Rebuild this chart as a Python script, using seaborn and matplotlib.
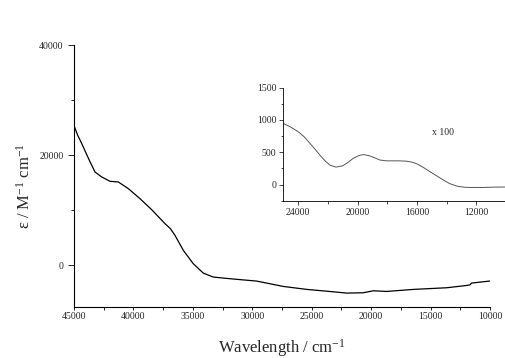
import matplotlib
matplotlib.use("Agg")
import matplotlib.pyplot as plt
from matplotlib.ticker import MultipleLocator
import seaborn as sns
import pandas as pd

sns.set_style("ticks")
plt.rcParams['font.family'] = ['Liberation Serif', 'DejaVu Serif']
plt.rcParams['mathtext.fontset'] = 'custom'
plt.rcParams['mathtext.rm'] = 'Liberation Serif'
plt.rcParams['mathtext.it'] = 'Liberation Serif:italic'

# main spectrum
wn_main = [45000, 44700, 44350, 43710, 43230, 42670, 41970, 41270, 40430, 39450, 38470,
           37344, 36900, 36500, 35800, 34963, 34120, 33280, 31875, 29630, 27390,
           25420, 22900, 22060, 20660, 19820, 18700, 16450, 13640, 11960, 11700,
           11540, 10060, 10000]
eps_main = [25400, 23700, 22130, 19090, 16960, 16060, 15270, 15150, 13940, 12130, 10130,
            7580, 6700, 5450, 2730, 300, -1400, -2120, -2420, -2850, -3820,
            -4360, -4850, -5030, -4970, -4610, -4730, -4360, -4060, -3640, -3550,
            -3210, -2850, -2830]

# inset (x 100)
wn_in = [25000, 24500, 24000, 23600, 23200, 22800, 22500, 22200, 21860, 21460, 21000,
         20600, 20300, 19900, 19600, 19200, 18800, 18500, 18100, 17800, 17200, 16700,
         16300, 16000, 15600, 15100, 14600, 14200, 13800, 13300, 12800, 12400, 11500, 10800, 10000]
eps_in = [946, 890, 817, 740, 636, 530, 445, 370, 300, 270, 290,
          350, 405, 450, 465, 445, 410, 380, 368, 367, 367, 362,
          345, 320, 270, 196, 125, 67, 15, -25, -42, -45, -45, -40, -38]

df_main = pd.DataFrame({"wn": wn_main, "eps": eps_main})
df_in = pd.DataFrame({"wn": wn_in, "eps": eps_in})

fig = plt.figure(figsize=(5.06, 3.58), dpi=100)
ax = fig.add_axes([0.1462, 0.1433, 0.8222, 0.7307])
sns.lineplot(data=df_main, x="wn", y="eps", ax=ax, color="black", linewidth=0.9,
             estimator=None, sort=False)
ax.set_xlim(45000, 10000)
ax.set_ylim(-7500, 40000)
ax.xaxis.set_major_locator(MultipleLocator(5000))
ax.xaxis.set_minor_locator(MultipleLocator(2500))
ax.yaxis.set_major_locator(MultipleLocator(20000))
ax.yaxis.set_minor_locator(MultipleLocator(10000))
ax.tick_params(which='both', direction='out', labelsize=7, width=0.6, color='black')
ax.tick_params(which='major', length=4)
ax.tick_params(which='minor', length=2.4)
ax.tick_params(axis='x', which='major', length=2.5, pad=1.5)
ax.tick_params(axis='x', which='minor', length=1.8)
ax.set_xlabel(r"Wavelength / cm$^{-1}$", fontsize=12)
ax.set_ylabel(r"ε / M$^{-1}$ cm$^{-1}$", fontsize=12)
ax.xaxis.set_label_coords(0.5, -0.115)
ax.yaxis.set_label_coords(-0.096, 0.46)
sns.despine(ax=ax)
for s in ax.spines.values():
    s.set_linewidth(0.8)
    s.set_color('black')

axi = fig.add_axes([0.56, 0.4394, 0.44, 0.3157])
sns.lineplot(data=df_in, x="wn", y="eps", ax=axi, color="#555555", linewidth=0.7,
             estimator=None, sort=False)
axi.set_xlim(25000, 10000)
axi.set_ylim(-250, 1500)
axi.xaxis.set_major_locator(MultipleLocator(4000))
axi.xaxis.set_minor_locator(MultipleLocator(2000))
axi.yaxis.set_major_locator(MultipleLocator(500))
axi.yaxis.set_minor_locator(MultipleLocator(250))
axi.tick_params(which='both', direction='out', labelsize=7, width=0.5, color='black')
axi.tick_params(which='major', length=3, pad=2)
axi.tick_params(which='minor', length=1.8)
axi.set_xlabel("")
axi.set_ylabel("")
axi.patch.set_alpha(0)
sns.despine(ax=axi)
for s in axi.spines.values():
    s.set_linewidth(0.6)
    s.set_color('black')
axi.text(15000, 800, "x 100", fontsize=7, ha='left', va='center')

fig.savefig("out.png", dpi=100)
